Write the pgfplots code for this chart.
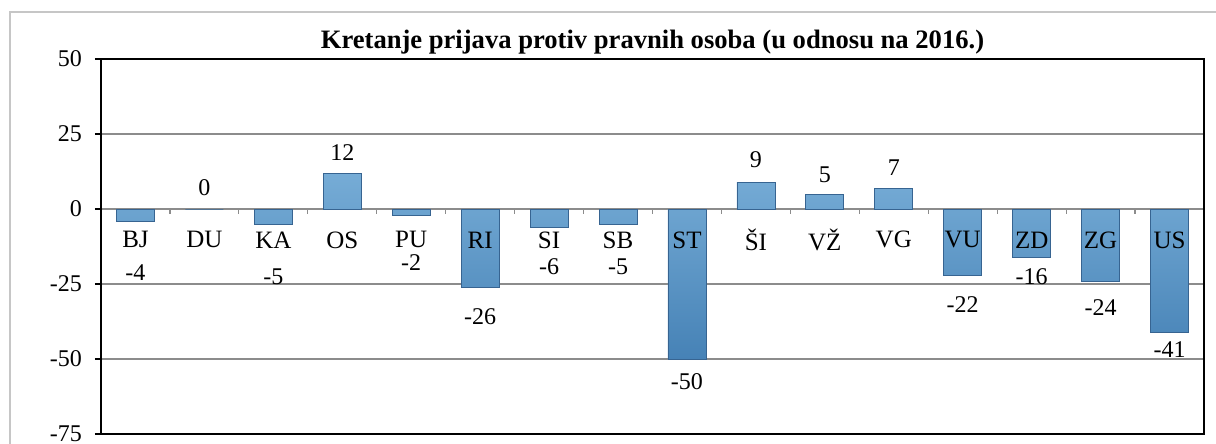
\documentclass[border=0pt]{standalone}
\usepackage{fontspec}
\setmainfont{Liberation Serif}
\usepackage{pgfplots}
\pgfplotsset{compat=1.18}
\definecolor{barmain}{RGB}{70,130,182}
\definecolor{bartop}{RGB}{118,172,214}
\definecolor{baredge}{RGB}{55,100,145}
\definecolor{gridc}{RGB}{140,140,140}
\begin{document}
\begin{tikzpicture}
\useasboundingbox (-50.5pt,-5pt) rectangle (557.5pt,217pt);
\draw[gray!45, line width=0.8pt] (-45.5pt,-30pt) -- (-45.5pt,211pt) -- (600pt,211pt);
\begin{axis}[
  at={(0,0)}, anchor=south west,
  scale only axis,
  width=551.5pt, height=187.5pt,
  xmin=-0.5, xmax=15.5,
  ymin=-75, ymax=50,
  xtick=\empty,
  ytick={-75,-50,-25,0,25,50},
  ymajorgrids,
  grid style={gridc, line width=0.6pt},
  axis line style={black, line width=0.7pt},
  ytick style={black, line width=0.6pt},
  major tick length=3pt,
  tick align=outside,
  ytick pos=left,
  /pgf/number format/assume math mode=true,
  yticklabel style={font=\fontsize{12pt}{14pt}\selectfont, xshift=-3pt},
  title={Kretanje prijava protiv pravnih osoba (u odnosu na 2016.)},
  title style={at={(0.5,1)}, anchor=center, yshift=2.5pt, font=\fontsize{13.3pt}{15pt}\selectfont\bfseries},
  clip=false,
]
\pgfplotsinvokeforeach{0.5,1.5,2.5,3.5,4.5,5.5,6.5,7.5,8.5,9.5,10.5,11.5,12.5,13.5,14.5}{
  \draw[gridc, line width=0.6pt] (axis cs:#1,0) -- (axis cs:#1,-1.5);
}
\addplot[ybar, bar width=19pt, draw=baredge, line width=0.4pt,
  top color=bartop, bottom color=barmain] coordinates {
  (0,-4) (1,0) (2,-5) (3,12) (4,-2) (5,-26) (6,-6) (7,-5)
  (8,-50) (9,9) (10,5) (11,7) (12,-22) (13,-16) (14,-24) (15,-41)
};
% category names
\addplot[draw=none, mark=none, point meta=explicit symbolic,
  nodes near coords,
  every node near coord/.append style={anchor=center, font=\fontsize{12.5pt}{14pt}\selectfont, text=black, inner sep=0pt}]
  coordinates {
  (0,-10.3) [BJ] (1,-10.3) [DU] (2,-10.3) [KA] (3,-10.3) [OS]
  (4,-10.3) [PU] (5,-10.3) [RI] (6,-10.3) [SI] (7,-10.3) [SB]
  (8,-10.3) [ST] (9,-10.3) [ŠI] (10,-10.3) [VŽ] (11,-10.3) [VG]
  (12,-10.3) [VU] (13,-10.3) [ZD] (14,-10.3) [ZG] (15,-10.3) [US]
};
% value labels
\addplot[draw=none, mark=none, point meta=explicit symbolic,
  nodes near coords,
  every node near coord/.append style={anchor=center, font=\fontsize{12pt}{14pt}\selectfont, text=black, inner sep=0pt}]
  coordinates {
  (0,-21.3) [-4] (1,7) [0] (2,-22.7) [-5] (3,18.7) [12]
  (4,-17.7) [-2] (5,-36) [-26] (6,-19.3) [-6] (7,-19.3) [-5]
  (8,-57.7) [-50] (9,16.3) [9] (10,11.3) [5] (11,13.7) [7]
  (12,-32) [-22] (13,-22.7) [-16] (14,-32.7) [-24] (15,-47) [-41]
};
\end{axis}
\end{tikzpicture}
\end{document}
